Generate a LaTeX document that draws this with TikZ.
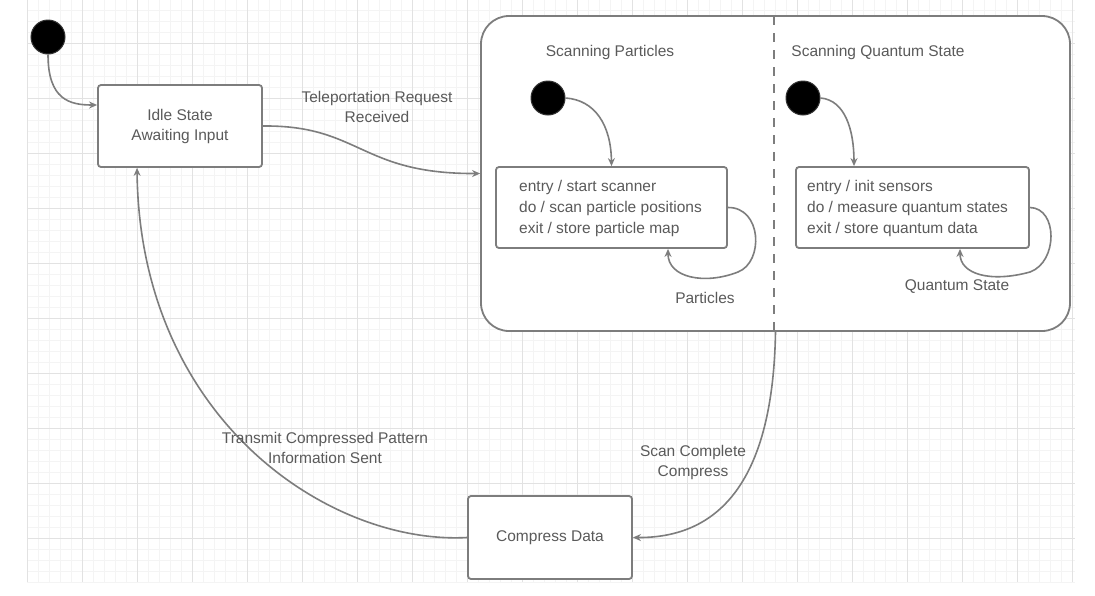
\documentclass[tikz,border=0pt]{standalone}
\usepackage{fontspec}
\setmainfont{Liberation Sans}
\usetikzlibrary{arrows.meta,calc}
\definecolor{linegray}{RGB}{125,125,125}
\definecolor{txtgray}{RGB}{90,90,90}
\definecolor{gridmajor}{RGB}{226,226,226}
\definecolor{gridminor}{RGB}{244,244,244}
\tikzset{
  statebox/.style={draw=linegray, line width=1.8pt, fill=white, rounded corners=3pt, inner sep=0pt},
  initdot/.style={circle, fill=black, draw=black!80, line width=1pt, minimum size=34pt, inner sep=0pt},
  trans/.style={draw=linegray, line width=1.6pt, -{Stealth[length=8pt,width=7pt]}},
  lbl/.style={text=txtgray, align=center, inner sep=1pt, font=\fontsize{15.5}{20}\selectfont},
  boxtext/.style={text=txtgray, align=left, anchor=west, inner sep=0pt, font=\fontsize{15.5}{21}\selectfont},
  divider/.style={draw=linegray, line width=1.6pt, dash pattern=on 9pt off 8pt}
}
\begin{document}
\begin{tikzpicture}[x=1pt,y=-1pt]
\useasboundingbox (0,0) rectangle (1095,595);
\fill[white] (0,0) rectangle (1095,595);
% grid
\foreach \x in {27,38,...,1075} \draw[gridminor, line width=0.6pt] (\x,0) -- (\x,582);
\foreach \y in {10,21,...,582} \draw[gridminor, line width=0.6pt] (27,\y) -- (1075,\y);
\foreach \x in {27,82,...,1075} \draw[gridmajor, line width=0.8pt] (\x,0) -- (\x,582);
\foreach \y in {43,98,...,582} \draw[gridmajor, line width=0.8pt] (27,\y) -- (1075,\y);

% composite state
\node[statebox, rounded corners=28pt, minimum width=589pt, minimum height=315pt] (comp) at (775.5,173.5) {};
\coordinate (divtop) at (774,16);
\coordinate (divbot) at (774,331);
\draw[divider] (divtop) -- (divbot);
\node[lbl] (tleft) at (610,52) {Scanning Particles};
\node[lbl] (tright) at (878,52) {Scanning Quantum State};

% states
\node[initdot] (i0) at (48,37) {};
\node[statebox, minimum width=164pt, minimum height=82pt, align=center, text=txtgray,
      font=\fontsize{15.5}{20}\selectfont] (idle) at (180,126) {Idle State\\Awaiting Input};
\node[statebox, minimum width=164pt, minimum height=83pt, text=txtgray,
      font=\fontsize{15.5}{20}\selectfont] (cmp) at (550,537.5) {Compress Data};

\node[initdot] (il) at (548,98) {};
\node[initdot] (ir) at (803,98) {};
\node[statebox, minimum width=231pt, minimum height=81pt] (inl) at (611.5,207.5) {};
\node[statebox, minimum width=233pt, minimum height=81pt] (inr) at (912.5,207.5) {};
\node[boxtext] (inltxt) at (519,208) {entry / start scanner\\do / scan particle positions\\exit / store particle map};
\node[boxtext] (inrtxt) at (807,208) {entry / init sensors\\do / measure quantum states\\exit / store quantum data};

% transitions
\draw[trans] (i0.south) .. controls (48,100) and (70,105) .. ([yshift=21pt]idle.west);
\draw[trans] (idle.east) .. controls (360,125) and (360,174) .. (comp.west);
\node[lbl] (lab1) at (377,107) {Teleportation Request\\Received};

\draw[trans] (il.east) .. controls (595,100) and (611,125) .. (inl.north);
\draw[trans] (ir.east) .. controls (845,100) and (854,130) .. ([xshift=-58.5pt]inr.north);

\coordinate (lmid) at (738,272);
\draw[trans] (inl.east) .. controls (762,207) and (764,262) .. (lmid) .. controls (705,285) and (668,278) .. ([xshift=56.5pt]inl.south);
\node[lbl] (lab2) at (705,298) {Particles};

\coordinate (rmid) at (1030,272);
\draw[trans] (inr.east) .. controls (1058,208) and (1058,262) .. (rmid) .. controls (990,283) and (960,274) .. ([xshift=47.5pt]inr.south);
\node[lbl] (lab3) at (957,287) {Quantum State};

\draw[trans] (comp.south) .. controls (773,480) and (720,538) .. (cmp.east);
\node[lbl] (lab4) at (693,462) {Scan Complete\\Compress};

\draw[trans] (cmp.west) .. controls (330,545) and (140,420) .. ([xshift=-43pt]idle.south);
\node[lbl] (lab5) at (325,448) {Transmit Compressed Pattern\\Information Sent};
\end{tikzpicture}
\end{document}
